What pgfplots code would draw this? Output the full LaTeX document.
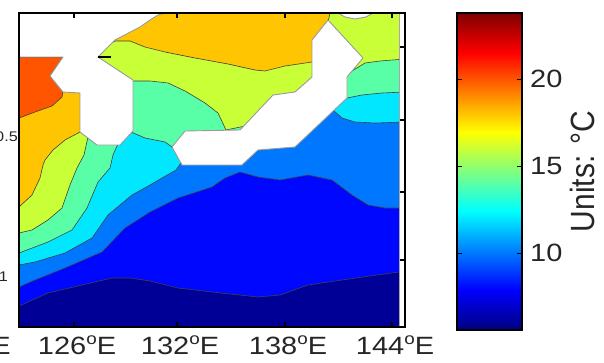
\documentclass[border=0pt]{standalone}
\usepackage{pgfplots}
\pgfplotsset{compat=1.18}
\usepackage{graphicx}
\usepackage{fontspec}
\setmainfont{Liberation Sans}
\definecolor{c6}{RGB}{0,0,150}
\definecolor{c8}{RGB}{0,7,255}
\definecolor{c10}{RGB}{0,119,255}
\definecolor{c12}{RGB}{0,231,255}
\definecolor{c14}{RGB}{88,255,167}
\definecolor{c16}{RGB}{200,255,55}
\definecolor{c18}{RGB}{255,197,0}
\definecolor{c20}{RGB}{255,85,0}
\newcommand{\hs}[1]{\scalebox{1.16}[1]{#1}}
\newcommand{\dg}{\raisebox{9.5pt}{\scalebox{0.65}{o}}}
\newcommand{\lonlab}[1]{\hs{#1\dg E}}
\newcommand{\tl}{\fontsize{25}{28}\selectfont}
\begin{document}
\begin{tikzpicture}
\begin{axis}[name=main, scale only axis, width=386pt, height=314pt,
  xmin=19, xmax=405, ymin=-327, ymax=-13,
  axis on top,
  xtick={74,177,285,392},
  xticklabels={\lonlab{126},\lonlab{132},\lonlab{138},\lonlab{144}},
  xtick pos=both, xticklabel pos=lower,
  ytick={-47,-120,-192,-260}, yticklabel=\empty, ytick pos=right,
  tick align=inside, major tick length=5pt,
  axis line style={line width=1.2pt, black},
  tick style={line width=1.2pt, black},
  xticklabel style={anchor=north, inner sep=0pt, yshift=-9pt, xshift=3pt, font=\tl, text=black!85},
  every axis plot/.append style={line join=round, mark=none},
  cont/.style={draw=black!75, line width=0.6pt},
  land/.style={fill=white, draw=black!40, line width=0.9pt},
]
% base (6 - 8)
\addplot[fill=c6, draw=none] coordinates {(19,-13)(405,-13)(405,-327)(19,-327)(19,-13)};
% >= 8
\addplot[cont, fill=c8] coordinates {(19,-306)(48,-293)(82,-285)(112,-278)(130,-278)(150,-281)(178,-288)(212,-292)(258,-297)(280,-295)(308,-285)(342,-280)(370,-276)(399,-272)(405,-272)(405,-13)(19,-13)(19,-306)};
% >= 10
\addplot[cont, fill=c10] coordinates {(19,-287)(35,-280)(65,-268)(102,-252)(125,-228)(150,-212)(178,-198)(212,-187)(225,-178)(240,-172)(258,-177)(280,-180)(308,-175)(332,-180)(352,-195)(368,-205)(385,-208)(405,-208)(405,-13)(19,-13)(19,-287)};
% >= 12
\addplot[cont, fill=c12] coordinates {(19,-265)(35,-262)(65,-253)(92,-238)(108,-215)(132,-195)(150,-185)(162,-178)(176,-170)(181,-163)(200,-150)(240,-148)(275,-130)(320,-110)(333,-110)(342,-118)(355,-122)(375,-123)(405,-122)(405,-13)(19,-13)(19,-265)};
% >= 14
\addplot[cont, fill=c14] coordinates {(19,-253)(48,-242)(72,-230)(87,-208)(98,-182)(110,-168)(113,-155)(117,-146)(122,-140)(131,-132)(145,-138)(165,-142)(172,-147)(200,-148)(260,-130)(320,-100)(347,-98)(362,-95)(382,-93)(405,-92)(405,-13)(19,-13)(19,-253)};
% >= 16
\addplot[cont, fill=c16] coordinates {(19,-233)(32,-230)(48,-220)(62,-208)(70,-185)(77,-168)(84,-155)(88,-137)(110,-110)(133,-81)(150,-81)(168,-83)(185,-91)(205,-103)(218,-113)(226,-130)(250,-125)(300,-100)(330,-80)(345,-78)(352,-71)(365,-63)(380,-61)(405,-59)(405,-13)(19,-13)(19,-233)};
% >= 18
\addplot[cont, fill=c18] coordinates {(19,-207)(32,-195)(40,-178)(43,-165)(45,-160)(53,-150)(65,-140)(80,-132)(90,-100)(80,-60)(100,-50)(115,-41)(130,-41)(145,-47)(165,-52)(195,-58)(228,-64)(255,-70)(265,-71)(285,-66)(312,-62)(322,-35)(328,-22)(330,-13)(19,-13)(19,-207)};
% >= 20
\addplot[cont, fill=c20] coordinates {(19,-57)(63,-57)(50,-76)(63,-91)(62,-97)(52,-106)(35,-112)(19,-118)(19,-57)};
% land
\addplot[land] coordinates {(19,-13)(166,-13)(158,-15)(150,-20)(140,-27)(115,-40)(98,-57)(133,-80)(133,-131)(120,-145)(97,-145)(80,-132)(80,-93)(63,-92)(50,-76)(63,-57)(19,-57)(19,-13)};
\addplot[land] coordinates {(172,-147)(185,-131)(240,-130)(273,-95)(295,-92)(312,-77)(312,-40)(328,-20)(363,-58)(347,-77)(347,-98)(295,-147)(258,-150)(242,-165)(182,-165)(172,-147)};
\addplot[land] coordinates {(338,-13)(345,-17)(355,-19)(366,-17)(373,-13)(338,-13)};
% right white strip
\addplot[fill=white, draw=none] coordinates {(399.5,-13)(404.5,-13)(404.5,-327)(399.5,-327)(399.5,-13)};
\addplot[black!35, line width=0.8pt] coordinates {(399.5,-13)(399.5,-327)};
\addplot[black, line width=1.2pt] coordinates {(98,-57)(111,-57)};
\end{axis}
\begin{axis}[at={(main.north east)}, anchor=north west, xshift=52pt,
  scale only axis, width=65pt, height=317pt,
  xmin=0, xmax=1, ymin=5.6, ymax=23.8,
  colormap/jet, point meta min=5.6, point meta max=23.8,
  xtick=\empty,
  ytick={10,15,20}, yticklabels={\hs{10},\hs{15},\hs{20}},
  ytick pos=both, yticklabel pos=right, tick align=inside,
  major tick length=5pt,
  axis line style={line width=1.2pt, black},
  tick style={line width=1.2pt, black},
  yticklabel style={anchor=west, inner sep=0pt, xshift=8pt, font=\tl, text=black!85},
  ylabel={\scalebox{1}[1.12]{Units: °C}},
  ylabel style={at={(axis description cs:1.74,0.5)}, anchor=north, inner sep=0pt, font=\fontsize{30}{33}\selectfont, text=black!85},
  axis on top,
]
\addplot[surf, shader=interp, mesh/cols=2, point meta=y] coordinates {
 (0,5.6) (1,5.6)
 (0,7.875) (1,7.875)
 (0,12.425) (1,12.425)
 (0,16.975) (1,16.975)
 (0,21.525) (1,21.525)
 (0,23.8) (1,23.8)
};
\end{axis}
\node[anchor=north, inner sep=0pt, font=\tl, text=black!85] at ([xshift=-47.5pt, yshift=-9pt]main.south west) {\lonlab{120}};
\node[anchor=east, inner sep=0pt, font=\fontsize{14}{16}\selectfont, text=black!85] at ([xshift=-1pt, yshift=190pt]main.south west) {\hs{0.5}};
\node[anchor=east, inner sep=0pt, font=\fontsize{14}{16}\selectfont, text=black!85] at ([xshift=-11pt, yshift=50pt]main.south west) {\hs{-1}};
\pgfresetboundingbox
\useasboundingbox ([xshift=-19pt, yshift=-35pt]main.south west) rectangle ([xshift=585pt, yshift=327pt]main.south west);
\end{tikzpicture}
\end{document}
